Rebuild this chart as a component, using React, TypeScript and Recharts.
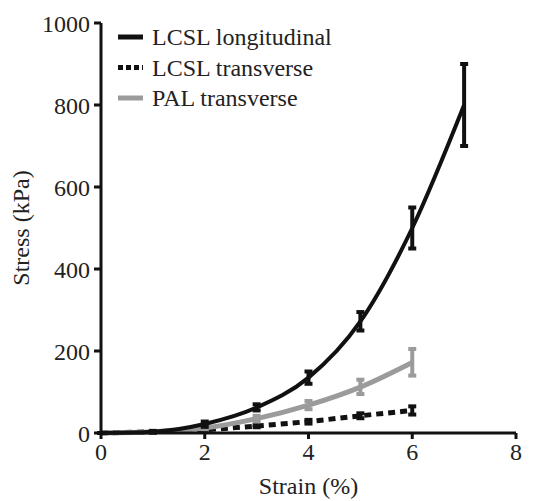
import React from 'react';
import { LineChart, Line, XAxis, YAxis, ErrorBar } from 'recharts';

// values (strain %, stress kPa, error [minus, plus])
const longStrain = [0, 1, 2, 3, 4, 5, 6, 7];
const longStress = [0, 3, 22, 62, 135, 272, 500, 800];
const longErr = [[0, 0], [2, 2], [7, 6], [7, 8], [15, 15], [22, 23], [50, 50], [100, 100]];

const transStrain = [0, 1, 2, 3, 4, 5, 6];
const transStress = [0, 3, 8, 17, 28, 42, 55];
const transErr = [[0, 0], [2, 2], [3, 3], [3, 3], [5, 4], [6, 6], [10, 10]];

const palStrain = [0, 1, 2, 3, 4, 5, 6];
const palStress = [0, 3, 12, 35, 68, 112, 172];
const palErr = [[0, 0], [2, 2], [3, 3], [7, 7], [10, 10], [17, 18], [32, 33]];

const xTicks = [0, 2, 4, 6, 8];
const yTicks = [0, 200, 400, 600, 800, 1000];

const seriesNames = ['LCSL longitudinal', 'LCSL transverse', 'PAL transverse'];

const build = (xs: number[], ys: number[], es: number[][]) =>
  xs.map((x, i) => ({ strain: x, stress: ys[i], err: es[i] }));

const longData = build(longStrain, longStress, longErr);
const transData = build(transStrain, transStress, transErr);
const palData = build(palStrain, palStress, palErr);

const BLACK = '#111111';
const GREY = '#9b9b9b';
const FONT = 'Liberation Serif, Tinos, Times New Roman, DejaVu Serif, serif';

const legendStyles = [
  { color: BLACK, dash: undefined },
  { color: BLACK, dash: '5 3' },
  { color: GREY, dash: undefined },
];

// drawn as an overlay so it does not take space from the plot
const LegendBox = () => (
  <svg width={260} height={100} style={{ position: 'absolute', left: 109, top: 15 }}>
    {seriesNames.map((name, i) => (
      <g key={name} transform={`translate(0, ${i * 30.5 + 14})`}>
        <line
          x1={1}
          x2={26}
          y1={0}
          y2={0}
          stroke={legendStyles[i].color}
          strokeWidth={5}
          strokeDasharray={legendStyles[i].dash}
        />
        <text x={35} y={8} fontSize={24} fontFamily={FONT} fill="#222">
          {name}
        </text>
      </g>
    ))}
  </svg>
);

const tickStyle = { fontSize: 24, fontFamily: FONT, fill: '#222' };

export default function App() {
  return (
    <div style={{ position: 'relative', width: 533, height: 493, fontFamily: FONT }}>
      <LineChart width={533} height={493} margin={{ top: 15, right: 25, left: 0, bottom: 0 }}>
        <XAxis
          dataKey="strain"
          type="number"
          domain={[0, 8]}
          ticks={xTicks}
          height={68}
          tick={tickStyle}
          tickSize={6}
          tickMargin={4}
          stroke={BLACK}
          strokeWidth={3}
          allowDuplicatedCategory={false}
          label={{ value: 'Strain (%)', position: 'insideBottom', offset: 7, style: { ...tickStyle } }}
        />
        <YAxis
          type="number"
          domain={[0, 1000]}
          ticks={yTicks}
          width={93}
          tick={tickStyle}
          tickSize={7}
          tickMargin={4}
          stroke={BLACK}
          strokeWidth={3}
          label={{
            value: 'Stress (kPa)',
            angle: -90,
            position: 'insideLeft',
            offset: 12,
            style: { ...tickStyle, textAnchor: 'middle' },
          }}
        />
        <Line
          data={transData}
          dataKey="stress"
          name={seriesNames[1]}
          type="monotone"
          stroke={BLACK}
          strokeWidth={5}
          strokeDasharray="7 5"
          dot={false}
          isAnimationActive={false}
        >
          <ErrorBar dataKey="err" width={4} stroke={BLACK} strokeWidth={4} />
        </Line>
        <Line
          data={palData}
          dataKey="stress"
          name={seriesNames[2]}
          type="monotone"
          stroke={GREY}
          strokeWidth={5}
          dot={false}
          isAnimationActive={false}
        >
          <ErrorBar dataKey="err" width={4} stroke={GREY} strokeWidth={4} />
        </Line>
        <Line
          data={longData}
          dataKey="stress"
          name={seriesNames[0]}
          type="monotone"
          stroke={BLACK}
          strokeWidth={4}
          dot={false}
          isAnimationActive={false}
        >
          <ErrorBar dataKey="err" width={4} stroke={BLACK} strokeWidth={4} />
        </Line>
      </LineChart>
      <LegendBox />
    </div>
  );
}
